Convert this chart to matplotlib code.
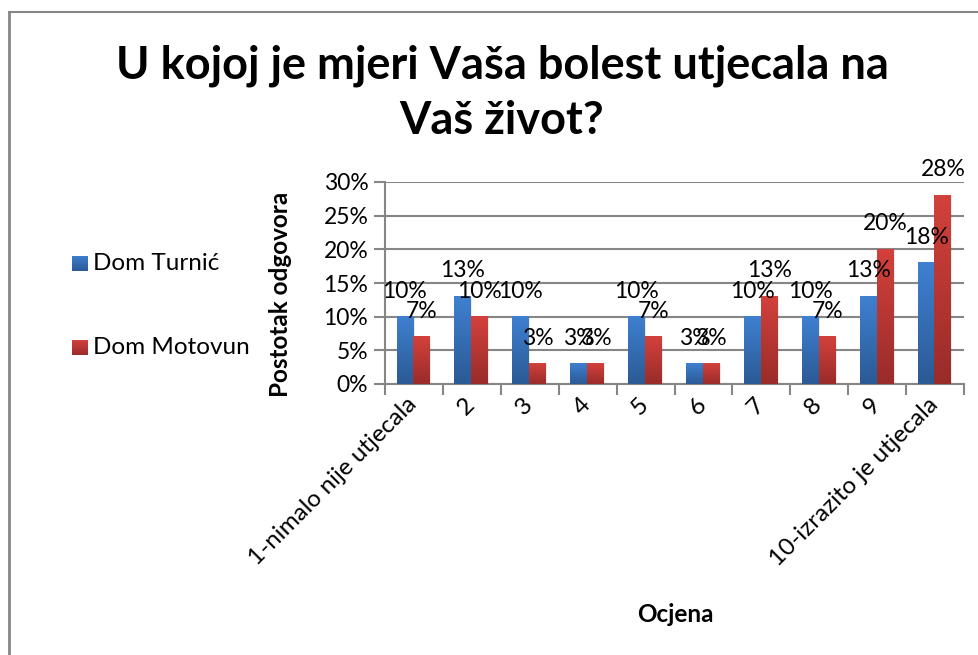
import matplotlib
matplotlib.use("Agg")
import matplotlib.pyplot as plt
import matplotlib.transforms as mtransforms
import numpy as np
from matplotlib.colors import LinearSegmentedColormap
from matplotlib.lines import Line2D
from matplotlib.patches import Rectangle

categories = ["1-nimalo nije utjecala", "2", "3", "4", "5", "6", "7", "8", "9", "10-izrazito je utjecala"]
turnic = [10, 13, 10, 3, 10, 3, 10, 10, 13, 18]
motovun = [7, 10, 3, 3, 7, 3, 13, 7, 20, 28]
series_names = ["Dom Turnić", "Dom Motovun"]
yticks = [0, 5, 10, 15, 20, 25, 30]
title_lines = ["U kojoj je mjeri Vaša bolest utjecala na", "Vaš život?"]

W, H = 979, 655
plt.rcParams['font.family'] = ['Lato', 'DejaVu Sans']
fig = plt.figure(figsize=(W / 100, H / 100), dpi=100)

def fx(x):
    return x / W

def fy(y):
    return 1 - y / H

ax_l, ax_r, ax_t, ax_b = 385, 964, 182, 384
ax = fig.add_axes([fx(ax_l), fy(ax_b), fx(ax_r - ax_l), (ax_b - ax_t) / H])

grey = "#868686"
blue_top, blue_bot = "#3f80d0", "#2b5a95"
red_top, red_bot = "#d3413c", "#992c29"

x = np.arange(len(categories))
bw = 0.29
bars_b = ax.bar(x - bw / 2 - 0.01, turnic, width=bw, color=blue_top, zorder=3)
bars_r = ax.bar(x + bw / 2 - 0.01, motovun, width=bw, color=red_top, zorder=3)

grad = np.linspace(0, 1, 64).reshape(-1, 1)
for bars, top, bot in [(bars_b, blue_top, blue_bot), (bars_r, red_top, red_bot)]:
    cmap = LinearSegmentedColormap.from_list("g", [bot, top])
    for b in bars:
        x0, w, h = b.get_x(), b.get_width(), b.get_height()
        ax.add_patch(Rectangle((x0 + 0.02, 0), w, h - 0.1, color="#000000", alpha=0.08, zorder=2, lw=0))
        ax.imshow(grad, extent=(x0, x0 + w, 0, h), origin="lower", cmap=cmap,
                  aspect="auto", zorder=4, interpolation="bilinear")

ax.set_xlim(-0.5, len(categories) - 0.5)
ax.set_ylim(0, 30)

# data labels
for bars, vals in [(bars_b, turnic), (bars_r, motovun)]:
    for b, v in zip(bars, vals):
        ax.annotate(f"{v}%", (b.get_x() + b.get_width() / 2, b.get_height()),
                    xytext=(0, 19), textcoords="offset pixels", ha="center", va="baseline",
                    fontsize=16.5, color="black", zorder=6)

# grid
ax.set_yticks(yticks)
ax.set_yticklabels([f"{t}%" for t in yticks], fontsize=16.5)
ax.yaxis.grid(True, color=grey, linewidth=1.5, zorder=0)
ax.set_axisbelow(True)
ax.tick_params(axis="y", length=8, width=1.5, color=grey, pad=4)

ax.set_xticks(x)
ax.set_xticklabels(categories, fontsize=17.5, rotation=45, ha="right", rotation_mode="anchor")
ax.tick_params(axis="x", which="major", length=0, pad=7)
shift = mtransforms.ScaledTranslation(-8 / 100, 0, fig.dpi_scale_trans)
for lbl in ax.get_xticklabels():
    lbl.set_transform(lbl.get_transform() + shift)
ax.set_xticks(np.arange(-0.5, len(categories), 1.0), minor=True)
ax.tick_params(axis="x", which="minor", length=8, width=1.5, color=grey)

for s in ["top", "right"]:
    ax.spines[s].set_visible(False)
for s in ["left", "bottom"]:
    ax.spines[s].set_color(grey)
    ax.spines[s].set_linewidth(1.5)

# title
fig.text(fx(502), fy(66), title_lines[0], ha="center", va="center", fontsize=32.5, fontweight="bold")
fig.text(fx(502), fy(121), title_lines[1], ha="center", va="center", fontsize=32.5, fontweight="bold")

# axis labels
fig.text(fx(281), fy(294), "Postotak odgovora", rotation=90, ha="center", va="center",
         fontsize=17.5, fontweight="bold")
fig.text(fx(675), fy(615), "Ocjena", ha="center", va="center", fontsize=17.5, fontweight="bold")

# legend
for name, (top, bot), yy in [(series_names[0], (blue_top, blue_bot), 263),
                             (series_names[1], (red_top, red_bot), 347)]:
    lax = fig.add_axes([fx(72), fy(yy + 8), fx(15), 15 / H])
    cmap = LinearSegmentedColormap.from_list("g", [bot, top])
    lax.imshow(grad, extent=(0, 1, 0, 1), origin="lower", cmap=cmap, aspect="auto")
    lax.set_axis_off()
    fig.text(fx(93), fy(yy), name, ha="left", va="center", fontsize=17.5)

# chart border
fig.add_artist(Line2D([fx(9), 1], [fy(12), fy(12)], color=grey, linewidth=1.5))
fig.add_artist(Line2D([fx(9), fx(9)], [fy(12), 0], color=grey, linewidth=2))

fig.savefig("out.png", dpi=100)
